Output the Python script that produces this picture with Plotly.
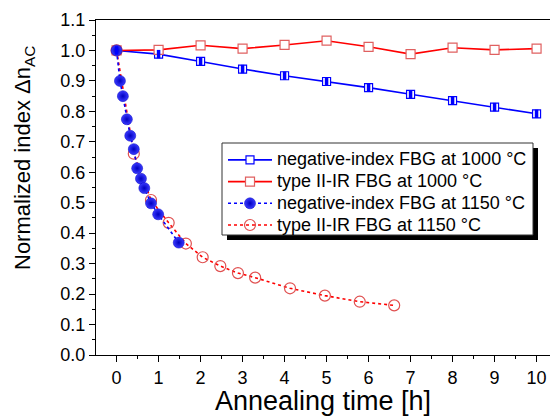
import plotly.graph_objects as go

# ---- data ----
t_1000 = [0, 1, 2, 3, 4, 5, 6, 7, 8, 9, 10]
neg_1000 = [1.0, 0.988, 0.964, 0.939, 0.917, 0.898, 0.878, 0.856, 0.835, 0.814, 0.792]
ii_1000 = [1.0, 1.002, 1.017, 1.006, 1.018, 1.032, 1.012, 0.988, 1.009, 1.002, 1.006]

t_neg_1150 = [0, 0.08, 0.15, 0.245, 0.325, 0.41, 0.49, 0.58, 0.66, 0.82, 0.99, 1.48]
neg_1150 = [1.0, 0.90, 0.85, 0.774, 0.72, 0.676, 0.613, 0.579, 0.548, 0.498, 0.462, 0.369]

t_ii_1150 = [0, 0.41, 0.82, 1.24, 1.65, 2.05, 2.47, 2.89, 3.30, 4.13, 4.96, 5.79, 6.61]
ii_1150 = [1.0, 0.661, 0.509, 0.434, 0.366, 0.321, 0.292, 0.269, 0.254, 0.219, 0.195, 0.175, 0.163]

names = [
    "negative-index FBG at 1000 \u00b0C",
    "type II-IR FBG at 1000 \u00b0C",
    "negative-index FBG at 1150 \u00b0C",
    "type II-IR FBG at 1150 \u00b0C",
]

BLUE = "#0000ff"
RED = "#ff0000"
FONT = "Liberation Sans, Arial, sans-serif"


def lg(s):
    return '<span style="font-size:18px">' + s + '</span>'


fig = go.Figure()

fig.add_trace(go.Scatter(
    x=t_1000, y=neg_1000, name=lg(names[0]), mode="lines+markers",
    line=dict(color=BLUE, width=1.6),
    marker=dict(symbol="square", size=8, color="white", line=dict(color=BLUE, width=1.2)),
    legendrank=1,
))
fig.add_trace(go.Scatter(
    x=t_1000, y=ii_1000, name=lg(names[1]), mode="lines+markers",
    line=dict(color=RED, width=1.6),
    marker=dict(symbol="square", size=9, color="white", line=dict(color="#e06060", width=1.2)),
    legendrank=2,
))
fig.add_trace(go.Scatter(
    x=t_ii_1150, y=ii_1150, name=lg(names[3]), mode="lines+markers",
    line=dict(color=RED, width=1.6, dash="dot"),
    marker=dict(symbol="circle", size=11, color="rgba(255,255,255,0)", line=dict(color="#e05050", width=1.2)),
    legendrank=4,
))
fig.add_trace(go.Scatter(
    x=t_neg_1150, y=neg_1150, name=lg(names[2]), mode="lines+markers",
    line=dict(color=BLUE, width=1.6, dash="dot"),
    marker=dict(symbol="circle", size=11, color="#3a3aff",
                gradient=dict(type="radial", color="#0000c0"),
                line=dict(color="#0000c0", width=0.5)),
    legendrank=3,
))
# filled half of the half-filled squares
fig.add_trace(go.Scatter(
    x=t_1000, y=neg_1000, mode="markers", showlegend=False, hoverinfo="skip",
    marker=dict(symbol="line-ns", size=6, line=dict(color=BLUE, width=3.5)),
))

# legend shadow and frame
fig.add_shape(type="rect", xref="paper", yref="paper",
              x0=(227 - 96) / 454, x1=(538 - 96) / 454,
              y0=(355 - 240) / 335, y1=(355 - 148) / 335,
              fillcolor="black", line=dict(width=0), layer="below")
fig.add_shape(type="rect", xref="paper", yref="paper",
              x0=(222 - 96) / 454, x1=(533 - 96) / 454,
              y0=(355 - 235) / 335, y1=(355 - 143) / 335,
              fillcolor="white", line=dict(color="#333333", width=1), layer="below")

fig.add_annotation(
    text="Normalized index \u0394n<sub>AC</sub>", xref="paper", yref="paper",
    x=(24 - 96) / 454, y=(355 - 158) / 335, xanchor="center", yanchor="middle",
    textangle=-90, showarrow=False, font=dict(size=22, family=FONT),
)

fig.update_layout(
    width=550, height=416,
    margin=dict(l=96, r=0, t=20, b=61),
    paper_bgcolor="white", plot_bgcolor="rgba(0,0,0,0)",
    font=dict(family=FONT, color="black"),
    legend=dict(
        x=(223 - 96) / 454, y=(355 - 144) / 335, xanchor="left", yanchor="top",
        bgcolor="rgba(0,0,0,0)", borderwidth=0,
        font=dict(size=14.4, family=FONT), itemwidth=44, tracegroupgap=0,
    ),
    xaxis=dict(
        range=[-0.49, 10.32], tickmode="array", tickvals=list(range(0, 11)),
        ticks="outside", ticklen=6, tickwidth=1, tickcolor="black",
        minor=dict(dtick=0.5, tick0=0, ticks="outside", ticklen=3, tickcolor="black"),
        showline=True, linecolor="black", linewidth=1.2, mirror=True,
        showgrid=False, zeroline=False,
        tickfont=dict(size=18), title=dict(text="Annealing time [h]", font=dict(size=27), standoff=2),
    ),
    yaxis=dict(
        range=[0, 1.1], tickmode="array", tickvals=[i / 10 for i in range(12)],
        ticktext=[f"{i / 10:.1f}" for i in range(12)],
        ticks="outside", ticklen=6, tickwidth=1, tickcolor="black",
        minor=dict(dtick=0.05, tick0=0, ticks="outside", ticklen=3, tickcolor="black"),
        showline=True, linecolor="black", linewidth=1.2,
        showgrid=False, zeroline=False,
        tickfont=dict(size=18),
    ),
)

fig.write_html("out.html", config={"displayModeBar": False},
               post_script="document.body.style.margin='0';document.body.style.padding='0';")
